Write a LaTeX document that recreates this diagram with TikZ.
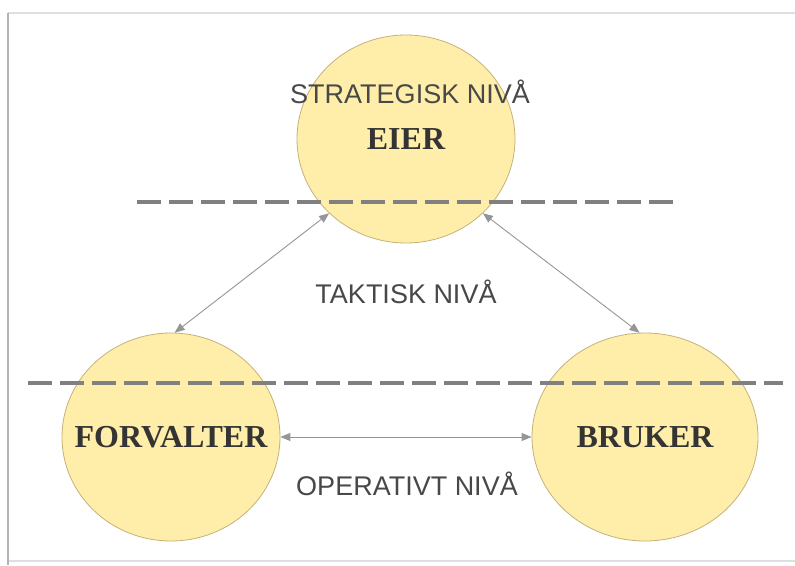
\documentclass[tikz,border=0pt]{standalone}
\usepackage{fontspec}
\setmainfont{Liberation Serif}
\setsansfont{Liberation Sans}
\usetikzlibrary{shapes.geometric, arrows.meta}
\definecolor{rolefill}{RGB}{255,238,170}
\definecolor{roledraw}{RGB}{196,178,122}
\definecolor{linegray}{RGB}{128,128,128}
\definecolor{arrowgray}{RGB}{150,150,150}
\definecolor{textgray}{RGB}{52,52,52}
\tikzstyle{role} = [ellipse, minimum width=218pt, minimum height=208pt, inner sep=0pt, fill=rolefill, draw=roledraw, line width=0.8pt, text=textgray, font=\fontsize{32}{36}\selectfont\bfseries]
\tikzstyle{level} = [anchor=base, inner sep=0pt, text=textgray!90, font=\fontsize{27}{30}\selectfont\sffamily]
\tikzstyle{border} = [dashed, dash pattern=on 24pt off 8pt, line width=4pt, draw=linegray]
\tikzstyle{arrow} = [<->, >={Triangle[length=10pt,width=8pt]}, line width=0.9pt, draw=arrowgray]

\begin{document}
\begin{tikzpicture}[x=1pt, y=-1pt]

    % page and its shadow
    \useasboundingbox (0,0) rectangle (795,565);
    \fill [white] (0,0) rectangle (795,565);
    \draw [gray!25, line width=1.5pt] (8,13) -- (795,13);
    \draw [gray!25, line width=1.5pt] (8,561) -- (795,561);
    \draw [gray!60, line width=2.5pt] (8,13) -- (8,565);

    % zero-width boxes so the names do not stretch the ellipses
    \node (eier) [role] at (406,139) {\makebox[0pt]{EIER}};
    \node (forvalter) [role] at (171,437) {\makebox[0pt]{FORVALTER}};
    \node (bruker) [role, minimum width=226pt] at (645,437) {\makebox[0pt]{BRUKER}};

    \node (strategisk) [level] at (410,103) {STRATEGISK NIVÅ};
    \node (taktisk) [level] at (406,303) {TAKTISK NIVÅ};
    \node (operativt) [level] at (407,495) {OPERATIVT NIVÅ};

    \draw [border] (137,202) -- (676,202);
    \draw [border] (28,383) -- (783,383);

    \draw [arrow] (eier.224) -- (forvalter.88);
    \draw [arrow] (eier.316) -- (bruker.93);
    \draw [arrow] (forvalter.east) -- (bruker.west);

\end{tikzpicture}
\end{document}
